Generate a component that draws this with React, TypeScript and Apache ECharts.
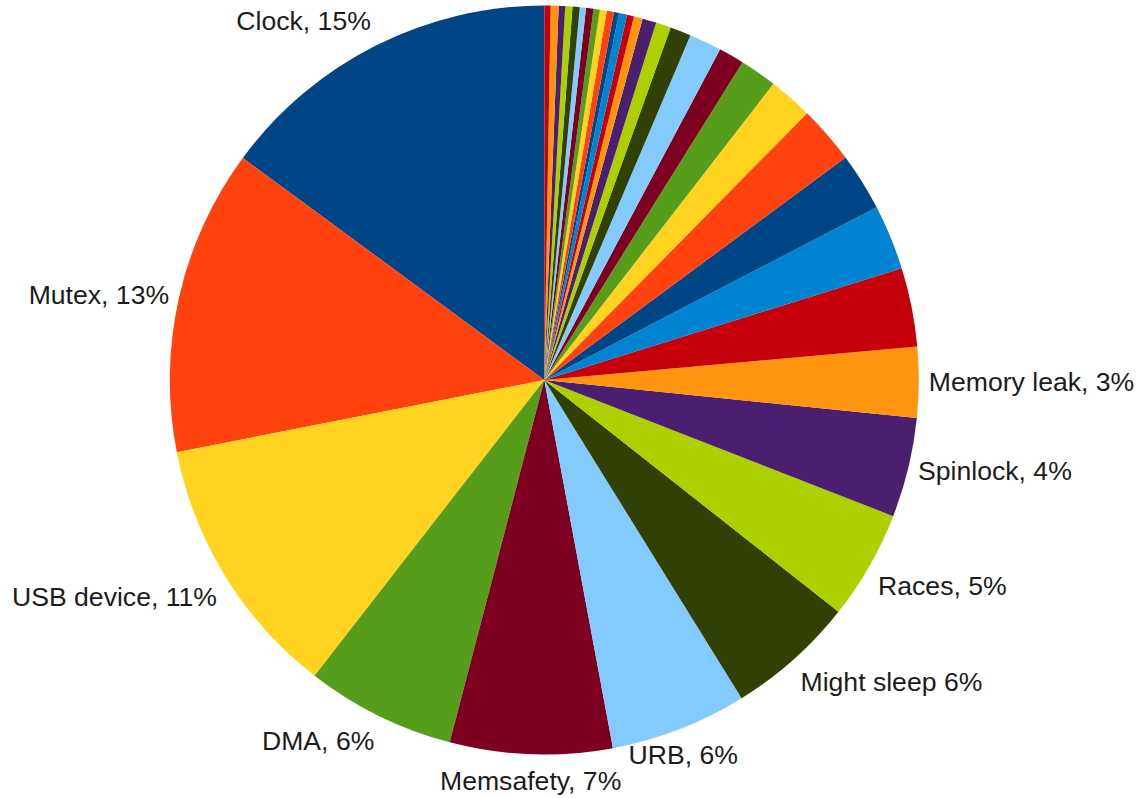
import React, { useEffect, useRef } from "react";
import * as echarts from "echarts";

// Named (labelled) categories, counter-clockwise from 12 o'clock
const categories = [
  "Clock",
  "Mutex",
  "USB device",
  "DMA",
  "Memsafety",
  "URB",
  "Might sleep",
  "Races",
  "Spinlock",
  "Memory leak",
];
const labelSeparators = [",", ",", ",", ",", ",", ",", "", ",", ",", ","];
const labeledValues = [14.9, 13.2, 11.4, 6.45, 7.0, 5.9, 5.55, 4.7, 4.3, 3.05];
// Remaining small, unlabelled slices (continuing counter-clockwise)
const unlabeledValues = [
  3.4, 2.8, 2.5, 2.5, 1.9, 1.6, 1.1, 1.4, 0.9, 0.65, 0.6, 0.38, 0.3, 0.35, 0.22,
  0.31, 0.3, 0.27, 0.32, 0.27, 0.31, 0.31, 0.28, 0.34, 0.27,
];
const palette = [
  "#004586",
  "#ff420e",
  "#ffd320",
  "#579d1c",
  "#7e0021",
  "#83caff",
  "#314004",
  "#aecf00",
  "#4b1f6f",
  "#ff950e",
  "#c5000b",
  "#0084d1",
];

const CX = 544.3;
const CY = 380;
const RADIUS = 374.5;
const LABEL_GAP = 10;

export default function App() {
  const ref = useRef<HTMLDivElement>(null);

  useEffect(() => {
    if (!ref.current) return;
    const chart = echarts.init(ref.current, undefined, { renderer: "svg" });
    const allValues = [...labeledValues, ...unlabeledValues];
    const total = allValues.reduce((a, b) => a + b, 0);

    const data = allValues.map((v, i) => {
      const labelled = i < categories.length;
      return {
        name: labelled ? categories[i] : "Other " + (i - categories.length + 1),
        value: v,
        itemStyle: { color: palette[i % palette.length] },
        label: { show: labelled },
      };
    });

    chart.setOption({
      animation: false,
      series: [
        {
          type: "pie",
          center: [CX, CY],
          radius: [0, RADIUS],
          startAngle: 90,
          clockwise: false,
          avoidLabelOverlap: false,
          minAngle: 0,
          itemStyle: { borderWidth: 0 },
          emphasis: { disabled: true },
          labelLine: { show: false },
          label: {
            position: "outside",
            fontFamily: "Liberation Sans",
            fontSize: 26.6,
            color: "#1c1c1c",
            formatter: (p: any) =>
              `${p.name}${labelSeparators[p.dataIndex]} ${Math.round(p.percent)}%`,
          },
          labelLayout: (p: any) => {
            const i = p.dataIndex;
            if (i >= categories.length) return {};
            let cum = 0;
            for (let j = 0; j < i; j++) cum += allValues[j];
            const alpha = ((cum + allValues[i] / 2) / total) * 360;
            const rad = (alpha * Math.PI) / 180;
            const Rx = RADIUS + LABEL_GAP;
            const Ry = RADIUS + LABEL_GAP + 3;
            const x = CX - Rx * Math.sin(rad);
            const y = CY - Ry * Math.cos(rad);
            const phi = (90 + alpha) % 360;
            let align = "center";
            let va = "middle";
            if (phi <= 22.5) { align = "left"; va = "middle"; }
            else if (phi < 67.5) { align = "left"; va = "bottom"; }
            else if (phi < 112.5) { align = "center"; va = "bottom"; }
            else if (phi <= 157.5) { align = "right"; va = "bottom"; }
            else if (phi <= 202.5) { align = "right"; va = "middle"; }
            else if (phi < 247.5) { align = "right"; va = "top"; }
            else if (phi < 292.5) { align = "center"; va = "top"; }
            else if (phi < 337.5) { align = "left"; va = "top"; }
            else { align = "left"; va = "middle"; }
            return { x, y, align, verticalAlign: va };
          },
          data,
        },
      ],
    });

    return () => chart.dispose();
  }, []);

  return (
    <div
      ref={ref}
      style={{ position: "fixed", left: 0, top: 0, width: 1138, height: 798, background: "#fff" }}
    />
  );
}
